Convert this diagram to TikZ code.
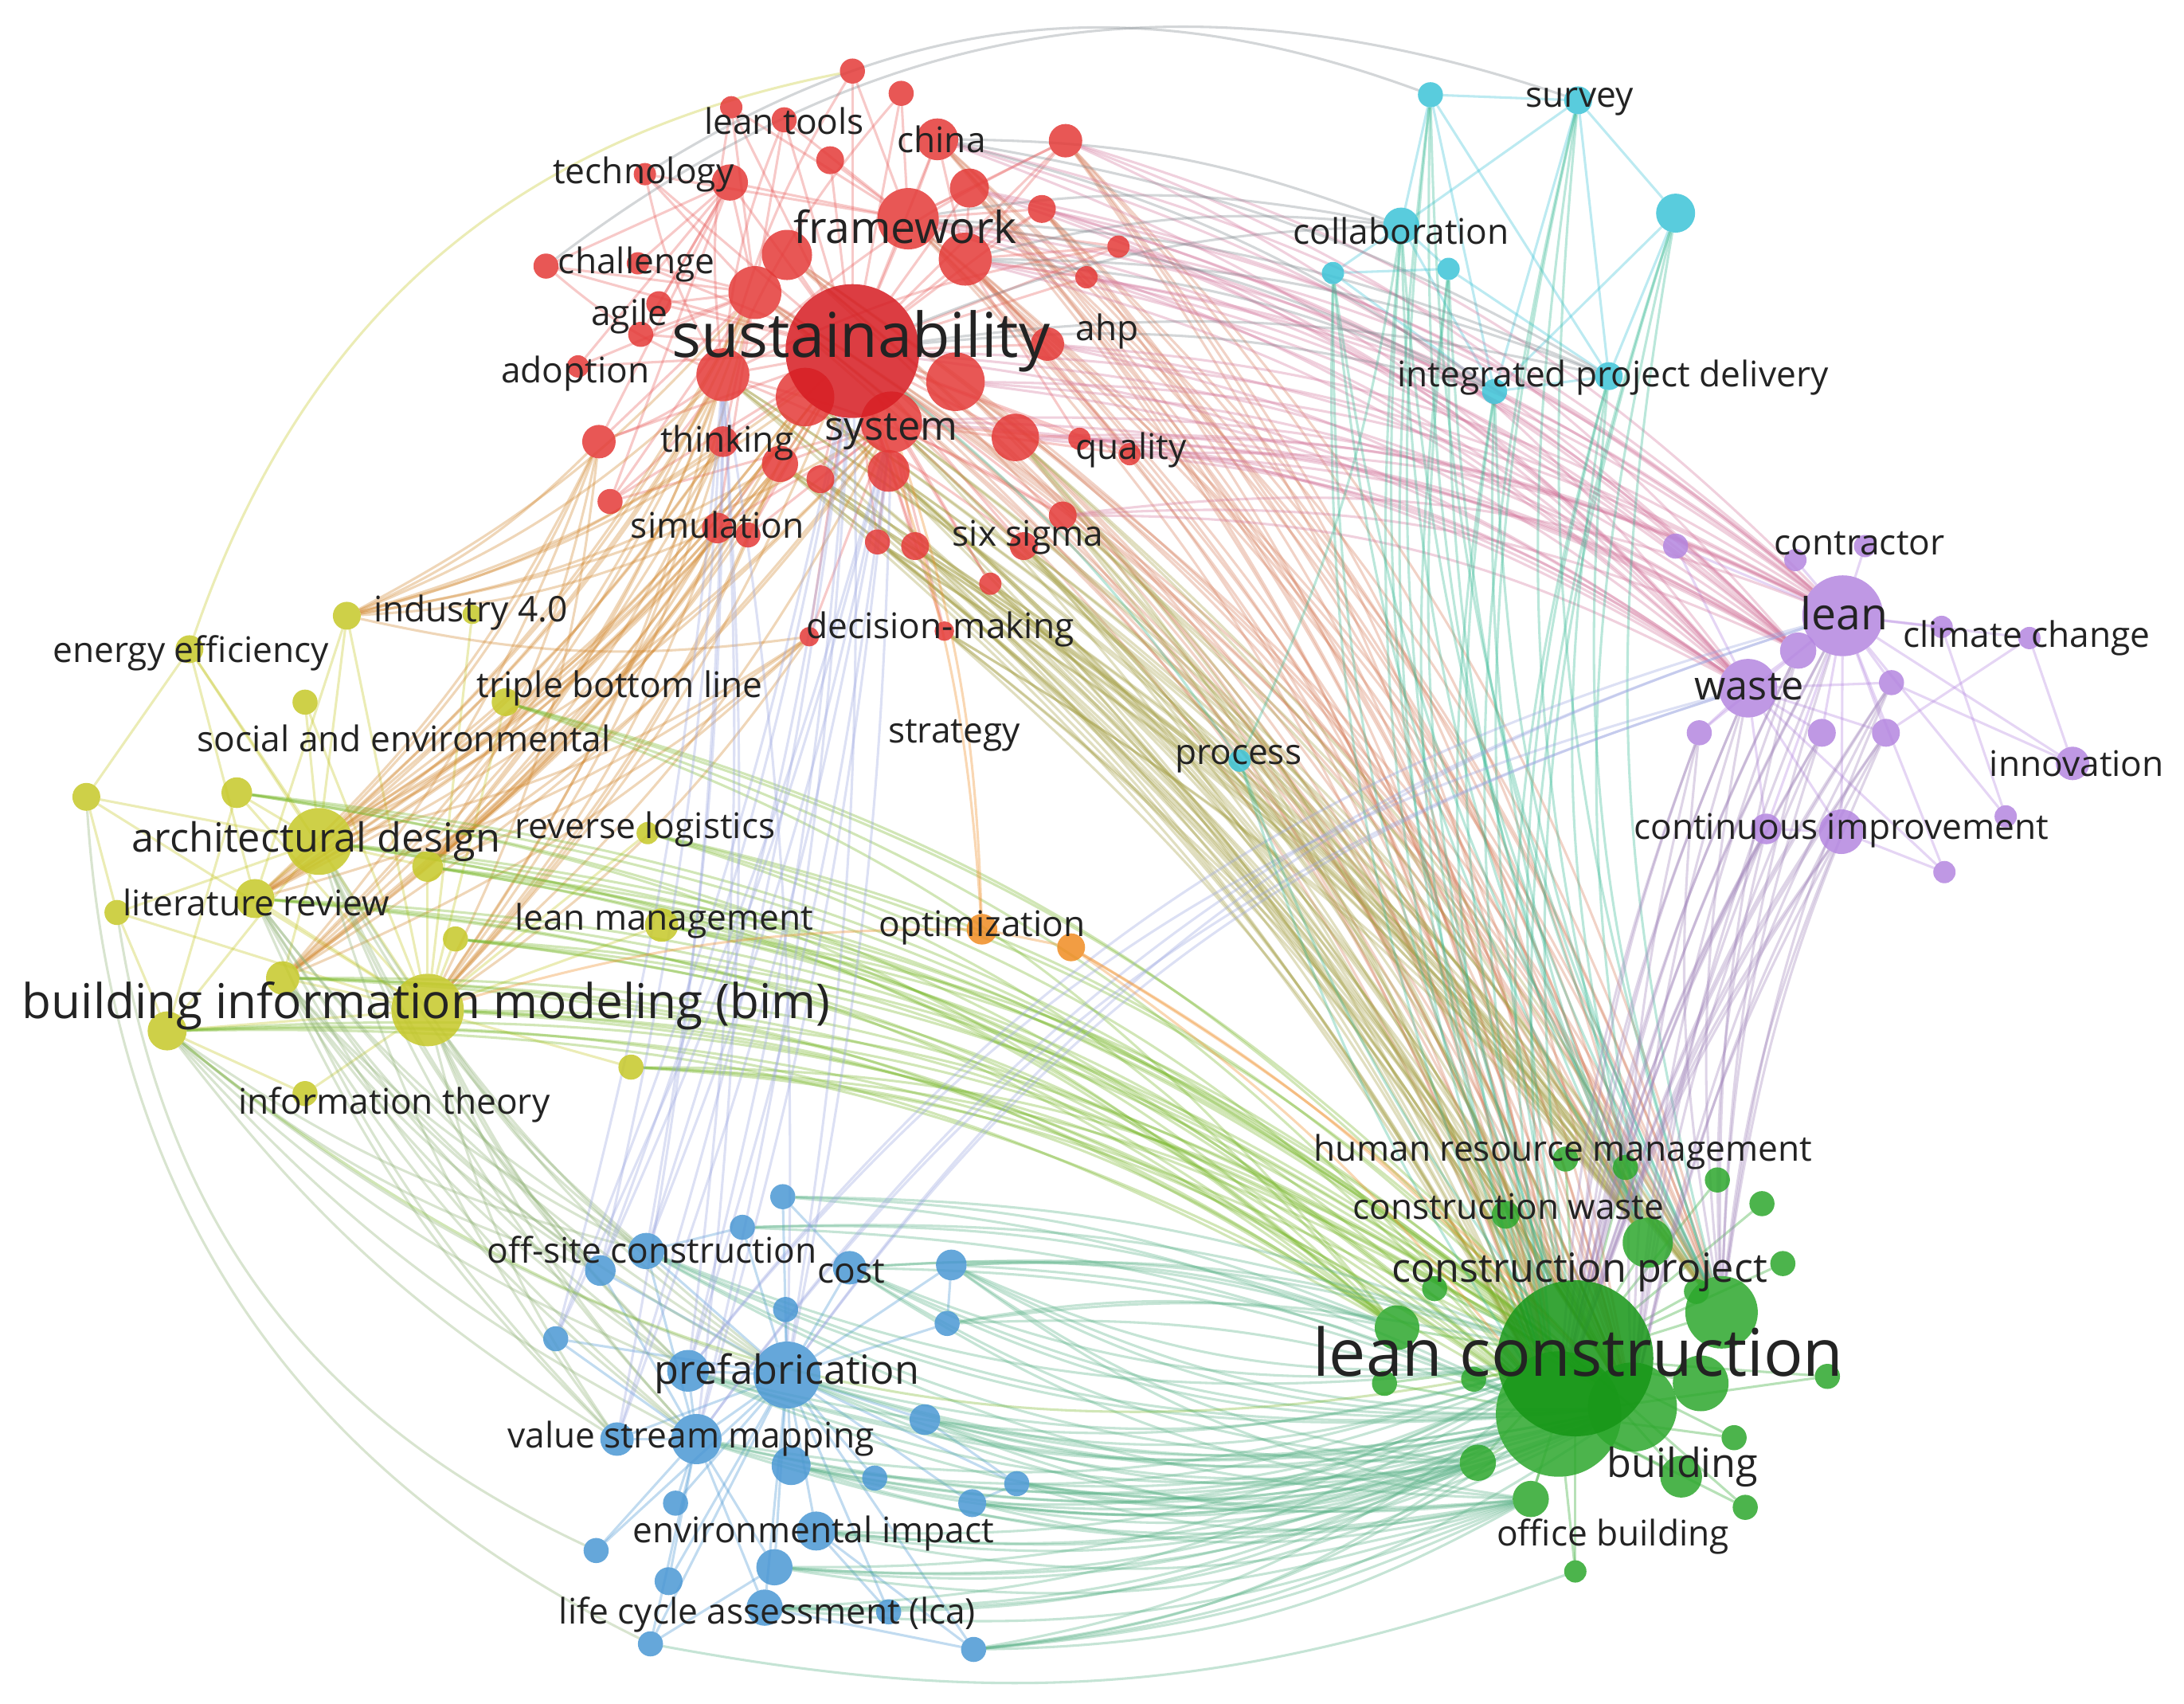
\documentclass[tikz,border=0pt]{standalone}
\usepackage{fontspec}
\setmainfont{Open Sans}
\usetikzlibrary{backgrounds}
\definecolor{vRed}{RGB}{228,58,56}
\definecolor{vRedD}{RGB}{214,28,34}
\definecolor{vGreen}{RGB}{45,168,45}
\definecolor{vGreenD}{RGB}{22,150,22}
\definecolor{vBlue}{RGB}{75,152,212}
\definecolor{vYellow}{RGB}{198,200,40}
\definecolor{vPurple}{RGB}{180,134,224}
\definecolor{vCyan}{RGB}{60,196,216}
\definecolor{vOrange}{RGB}{240,140,35}
\definecolor{txt}{RGB}{35,35,35}
\definecolor{eRGa}{RGB}{214,125,90}
\definecolor{eRGb}{RGB}{165,160,70}
\newcommand\kwnode[5]{\node[vn,minimum size=#4*0.2mm,fill=#5] (#1) at (#2,#3) {};}
\tikzset{
  vn/.style={circle,inner sep=0pt,outer sep=0pt,fill opacity=.85,draw=none},
  lab/.style={text=txt,inner sep=0pt,font=\fontsize{7.2}{8}\selectfont},
  labM/.style={lab,font=\fontsize{8.2}{9}\selectfont},
  labL/.style={lab,font=\fontsize{9}{10}\selectfont},
  labB/.style={lab,font=\fontsize{9.8}{11}\selectfont},
  labX/.style={lab,font=\fontsize{12.6}{14}\selectfont},
  labXX/.style={lab,font=\fontsize{13.4}{15}\selectfont},
  ed/.style={line width=.5pt,draw opacity=.34},
  eRR/.style={ed,draw=vRed!80!white},
  eRG/.style={ed,draw=eRGa},
  eRGo/.style={ed,draw=eRGb},
  eRP/.style={ed,draw=vRed!50!vPurple!85!white},
  eRY/.style={ed,draw=vRed!45!vYellow},
  eYG/.style={ed,draw=vYellow!50!vGreen},
  eBG/.style={ed,draw=vBlue!40!vGreen!85!white},
  eCG/.style={ed,draw=vCyan!60!vGreen},
  ePG/.style={ed,draw=vPurple!60!gray},
  eYB/.style={ed,draw=vYellow!55!vBlue},
  eRB/.style={ed,draw=vBlue!50!vPurple!80!white},
  eCC/.style={ed,draw=vCyan},
  ePP/.style={ed,draw=vPurple},
  eYY/.style={ed,draw=vYellow},
  eBB/.style={ed,draw=vBlue},
  eGG/.style={ed,draw=vGreen},
  eOO/.style={ed,draw=vOrange},
  eRC/.style={ed,draw=vRed!40!vCyan!60!gray},
}
\begin{document}
\begin{tikzpicture}[x=0.01cm,y=-0.01cm]
\path[use as bounding box] (0,0) rectangle (1568,1223);
% ---------------- red cluster
\kwnode{r1}{612}{51}{9}{vRed}
\kwnode{r2}{647}{67}{9}{vRed}
\kwnode{r3}{525}{77}{8}{vRed}
\kwnode{r4}{563}{86}{9}{vRed}
\kwnode{r5}{673}{100}{15}{vRed}
\kwnode{r6}{765}{101}{12}{vRed}
\kwnode{r7}{596}{115}{10}{vRed}
\kwnode{r8}{524}{131}{13}{vRed}
\kwnode{r9}{463}{125}{8}{vRed}
\kwnode{r10}{696}{135}{14}{vRed}
\kwnode{r11}{748}{150}{10}{vRed}
\kwnode{r12}{652}{157}{22}{vRed}
\kwnode{r13}{565}{183}{18}{vRed}
\kwnode{r14}{693}{186}{19}{vRed}
\kwnode{r15}{803}{177}{8}{vRed}
\kwnode{r16}{780}{199}{8}{vRed}
\kwnode{r17}{392}{191}{9}{vRed}
\kwnode{r18}{458}{189}{8}{vRed}
\kwnode{r19}{542}{210}{19}{vRed}
\kwnode{r20}{473}{218}{9}{vRed}
\kwnode{r21}{460}{240}{9}{vRed}
\kwnode{r22}{519}{269}{19}{vRed}
\kwnode{r23}{415}{263}{8}{vRed}
\kwnode{r24}{578}{285}{21}{vRed}
\kwnode{r25}{686}{274}{21}{vRed}
\kwnode{r26}{640}{303}{22}{vRed}
\kwnode{r27}{729}{314}{17}{vRed}
\kwnode{r28}{430}{317}{12}{vRed}
\kwnode{r29}{519}{317}{11}{vRed}
\kwnode{r30}{775}{315}{8}{vRed}
\kwnode{r31}{811}{326}{8}{vRed}
\kwnode{r32}{560}{333}{13}{vRed}
\kwnode{r33}{589}{344}{10}{vRed}
\kwnode{r34}{638}{338}{15}{vRed}
\kwnode{r35}{438}{360}{9}{vRed}
\kwnode{r36}{515}{379}{11}{vRed}
\kwnode{r37}{537}{384}{9}{vRed}
\kwnode{r38}{630}{389}{9}{vRed}
\kwnode{r39}{657}{392}{10}{vRed}
\kwnode{r40}{763}{370}{10}{vRed}
\kwnode{r41}{735}{392}{10}{vRed}
\kwnode{r42}{711}{419}{8}{vRed}
\kwnode{r43}{581}{457}{7}{vRed}
\kwnode{r44}{678}{453}{7}{vRed}
\kwnode{r45}{752}{247}{12}{vRed}
\kwnode{rS}{612}{252}{48}{vRedD}
% ---------------- cyan cluster
\kwnode{c1}{1027}{68}{9}{vCyan}
\kwnode{c2}{1133}{72}{10}{vCyan}
\kwnode{c3}{1203}{153}{14}{vCyan}
\kwnode{c4}{1006}{162}{13}{vCyan}
\kwnode{c5}{957}{196}{8}{vCyan}
\kwnode{c6}{1040}{193}{8}{vCyan}
\kwnode{c7}{1073}{281}{9}{vCyan}
\kwnode{c8}{1155}{270}{10}{vCyan}
\kwnode{c9}{890}{546}{8}{vCyan}
% ---------------- purple cluster
\kwnode{p1}{1203}{392}{9}{vPurple}
\kwnode{p2}{1289}{402}{8}{vPurple}
\kwnode{p3}{1339}{392}{8}{vPurple}
\kwnode{p5}{1291}{467}{13}{vPurple}
\kwnode{p7}{1394}{450}{8}{vPurple}
\kwnode{p8}{1457}{458}{8}{vPurple}
\kwnode{p9}{1358}{490}{9}{vPurple}
\kwnode{p10}{1220}{526}{9}{vPurple}
\kwnode{p11}{1308}{526}{10}{vPurple}
\kwnode{p12}{1354}{526}{10}{vPurple}
\kwnode{p13}{1488}{548}{12}{vPurple}
\kwnode{p14}{1268}{595}{11}{vPurple}
\kwnode{p15}{1322}{597}{16}{vPurple}
\kwnode{p16}{1440}{586}{8}{vPurple}
\kwnode{p17}{1396}{626}{8}{vPurple}
\kwnode{pW}{1255}{494}{21}{vPurple}
\kwnode{pL}{1323}{442}{29}{vPurple}
% ---------------- yellow cluster
\kwnode{y1}{249}{442}{10}{vYellow}
\kwnode{y2}{339}{441}{7}{vYellow}
\kwnode{y3}{136}{466}{10}{vYellow}
\kwnode{y4}{219}{504}{9}{vYellow}
\kwnode{y5}{363}{504}{10}{vYellow}
\kwnode{y6}{62}{572}{10}{vYellow}
\kwnode{y7}{170}{569}{11}{vYellow}
\kwnode{y9}{307}{622}{11}{vYellow}
\kwnode{y10}{465}{598}{8}{vYellow}
\kwnode{y11}{84}{655}{9}{vYellow}
\kwnode{y12}{183}{645}{14}{vYellow}
\kwnode{y13}{327}{674}{9}{vYellow}
\kwnode{y14}{475}{664}{12}{vYellow}
\kwnode{y15}{203}{702}{12}{vYellow}
\kwnode{y17}{120}{740}{14}{vYellow}
\kwnode{y18}{453}{766}{9}{vYellow}
\kwnode{y19}{219}{785}{9}{vYellow}
\kwnode{yA}{229}{604}{24}{vYellow}
\kwnode{yB}{307}{725}{26}{vYellow}
% ---------------- orange
\kwnode{o1}{705}{667}{11}{vOrange}
\kwnode{o2}{769}{680}{10}{vOrange}
% ---------------- blue cluster
\kwnode{b1}{562}{859}{9}{vBlue}
\kwnode{b2}{533}{881}{9}{vBlue}
\kwnode{b3}{464}{898}{13}{vBlue}
\kwnode{b4}{431}{912}{11}{vBlue}
\kwnode{b5}{610}{910}{12}{vBlue}
\kwnode{b6}{683}{908}{11}{vBlue}
\kwnode{b7}{564}{940}{9}{vBlue}
\kwnode{b8}{680}{950}{9}{vBlue}
\kwnode{b9}{399}{961}{9}{vBlue}
\kwnode{b10}{494}{984}{15}{vBlue}
\kwnode{b12}{664}{1019}{11}{vBlue}
\kwnode{b13}{443}{1033}{12}{vBlue}
\kwnode{b14}{500}{1033}{18}{vBlue}
\kwnode{b15}{568}{1052}{14}{vBlue}
\kwnode{b16}{628}{1061}{9}{vBlue}
\kwnode{b17}{730}{1065}{9}{vBlue}
\kwnode{b18}{485}{1079}{9}{vBlue}
\kwnode{b19}{698}{1079}{10}{vBlue}
\kwnode{b20}{586}{1099}{14}{vBlue}
\kwnode{b21}{428}{1113}{9}{vBlue}
\kwnode{b22}{556}{1125}{13}{vBlue}
\kwnode{b23}{480}{1135}{10}{vBlue}
\kwnode{b24}{549}{1154}{13}{vBlue}
\kwnode{b25}{638}{1157}{9}{vBlue}
\kwnode{b26}{467}{1180}{9}{vBlue}
\kwnode{b27}{699}{1184}{9}{vBlue}
\kwnode{bP}{565}{987}{24}{vBlue}
% ---------------- green cluster
\kwnode{g1}{1124}{832}{9}{vGreen}
\kwnode{g2}{1167}{838}{9}{vGreen}
\kwnode{g3}{1233}{847}{9}{vGreen}
\kwnode{g4}{1265}{864}{9}{vGreen}
\kwnode{g5}{1081}{872}{10}{vGreen}
\kwnode{g6}{1183}{892}{18}{vGreen}
\kwnode{g7}{1280}{907}{9}{vGreen}
\kwnode{g8}{1030}{925}{9}{vGreen}
\kwnode{g9}{1218}{927}{9}{vGreen}
\kwnode{g10}{1236}{942}{26}{vGreen}
\kwnode{g11}{1003}{953}{16}{vGreen}
\kwnode{g16}{994}{993}{9}{vGreen}
\kwnode{g17}{1058}{990}{9}{vGreen}
\kwnode{g18}{1312}{988}{9}{vGreen}
\kwnode{g19}{1245}{1032}{9}{vGreen}
\kwnode{g20}{1061}{1050}{13}{vGreen}
\kwnode{g21}{1207}{1060}{15}{vGreen}
\kwnode{g22}{1099}{1076}{13}{vGreen}
\kwnode{g23}{1253}{1082}{9}{vGreen}
\kwnode{g24}{1131}{1128}{8}{vGreen}
\kwnode{g14}{1221}{993}{20}{vGreen}
\kwnode{g15}{1172}{1010}{32}{vGreen}
\kwnode{g13}{1119}{1015}{45}{vGreen}
\kwnode{gL}{1131}{975}{56}{vGreenD}
% ================= edges
\begin{pgfonlayer}{background}
\fill[white] (0,0) rectangle (1568,1223);
% intra-cluster
\foreach \i in {1,...,45} {\draw[eRR] (rS) -- (r\i);}
\foreach \i in {1,...,11,15,16} {\draw[eRR] (r12) -- (r\i);}
\foreach \i in {3,4,8,9,17,18,20,21,23,28,29,35,36} {\draw[eRR] (r19) -- (r\i);}
\foreach \i in {30,...,44} {\draw[eRR] (r26) -- (r\i);}
\foreach \i in {5,6,10,11,15,16,45,30,31} {\draw[eRR] (r14) -- (r\i);}
\foreach \i in {17,18,20,21,23,28,35} {\draw[eRR] (r8) -- (r\i);}
\foreach \i in {1,2,3,4,6,9,15,17,28,35,40,41} {\draw[eRR] (r22) to[bend left=8] (r\i);}
\foreach \a/\b in {c1/c4,c1/c7,c1/c8,c1/c2,c2/c4,c2/c7,c2/c8,c2/c3,c3/c8,c3/c7,c4/c5,c4/c6,c4/c7,c5/c6,c6/c8,c7/c8,c5/c7}
  {\draw[eCC] (\a) -- (\b);}
\foreach \i in {1,2,3,5,7,8,9,10,11,12,13,14,15,16,17} {\draw[ePP] (pL) -- (p\i);}
\foreach \i in {1,5,9,10,11,12,14,15,17} {\draw[ePP] (pW) -- (p\i);}
\foreach \a/\b in {p13/p8,p13/p9,p16/p7,p8/p12,p17/p15,p14/p15}{\draw[ePP] (\a) -- (\b);}
\foreach \i in {1,2,3,4,5,6,7,9,10,11,12,13,14,15,17,18,19} {\draw[eYY] (yB) -- (y\i);}
\foreach \i in {1,3,4,6,7,9,11,12,15,17} {\draw[eYY] (yA) -- (y\i);}
\foreach \a/\b in {y6/y3,y6/y11,y11/y17,y3/y12,y1/y12,y7/y17,y19/y17}{\draw[eYY] (\a) -- (\b);}
\foreach \i in {1,...,10,12,13,14,15,16,17,18,19,20,21,22,23,24,25,26,27} {\draw[eBB] (bP) -- (b\i);}
\foreach \i in {3,4,9,13,18,21,22,23,24,26,10} {\draw[eBB] (b14) -- (b\i);}
\foreach \a/\b in {b20/b25,b20/b27,b24/b27,b22/b26,b12/b17,b19/b17,b6/b8,b5/b1,b2/b3}{\draw[eBB] (\a) -- (\b);}
\foreach \i in {1,...,11,14,15,16,17,18,19,20,21,22,23,24} {\draw[eGG] (gL) -- (g\i);}
\foreach \i in {16,17,18,19,20,21,22,23,24} {\draw[eGG] (g13) -- (g\i);}
% red - green
\foreach \a in {rS,r12,r14,r25,r10,r13,r19,r5,r6,r11}
  {\foreach \b in {gL,g13,g15,g10,g6} {\draw[eRG] (\a) to[bend left=14] (\b);}}
\foreach \a in {r26,r27,r24,r34,r41,r40,r22,r33,r38,r39,r42,r44,r32}
  {\foreach \b in {gL,g13,g15,g10,g6} {\draw[eRGo] (\a) to[bend left=10] (\b);}}
% red - purple
\foreach \a in {rS,r12,r14,r25,r6,r10,r45,r27,r26,r5,r11,r16,r31,r40,r15,r30}
  {\foreach \b in {pL,pW,p5} {\draw[eRP] (\a) to[bend left=14] (\b);}}
% red - yellow
\foreach \a in {rS,r22,r19,r28,r29,r24,r32,r36,r43,r26}
  {\foreach \b in {yA,yB,y12,y15,y9,y1} {\draw[eRY] (\a) to[bend left=10] (\b);}}
% yellow - green
\foreach \a in {yB,yA,y12,y15,y17,y9,y14,y13,y18,y7,y10,y5}
  {\foreach \b in {gL,g13,g15,g11} {\draw[eYG] (\a) to[bend left=16] (\b);}}
% blue - green
\foreach \a in {bP,b10,b14,b15,b20,b5,b6,b12,b3,b22,b24,b27,b17,b19}
  {\foreach \b in {gL,g13,g15,g20,g22} {\draw[eBG] (\a) to[bend right=14] (\b);}}
\foreach \a in {b1,b2,b5,b6,b8}
  {\foreach \b in {gL,g13,g11} {\draw[eBG] (\a) to[bend left=10] (\b);}}
% cyan - green
\foreach \a in {c1,c2,c3,c4,c5,c6,c7,c8}
  {\foreach \b in {gL,g13,g10,g6} {\draw[eCG] (\a) to[bend right=12] (\b);}}
% purple - green
\foreach \a in {pL,pW,p15,p14,p10,p11,p12,p5,p9}
  {\foreach \b in {gL,g13,g10,g15} {\draw[ePG] (\a) to[bend right=8] (\b);}}
% yellow - blue
\foreach \a in {yB,yA,y12,y15,y17}
  {\foreach \b in {bP,b14,b3,b10,b13,b4} {\draw[eYB] (\a) to[bend right=10] (\b);}}
% red - blue
\foreach \a in {b3,b4,b9,b13,b10,b14,bP}
  {\foreach \b in {rS,r22,r26} {\draw[eRB] (\a) to[bend right=5] (\b);}}
% purple - blue
\foreach \a in {pL,pW}
  {\foreach \b in {bP,b10,b14} {\draw[eRB] (\a) to[bend right=18] (\b);}}
% red - cyan
\foreach \a in {rS,r12,r14,r5}
  {\foreach \b in {c4,c7,c8} {\draw[eRC] (\a) to[bend left=10] (\b);}}
% orange and process
\draw[eOO] (o1) -- (o2);
\foreach \b in {gL,g13,g15} {\draw[eOO] (o2) to[bend left=8] (\b);}
\foreach \b in {rS,r26,yB} {\draw[eOO] (o1) to[bend right=8] (\b);}
\foreach \b in {gL,g13,c4,rS} {\draw[eCG] (c9) to[bend right=8] (\b);}
% outer arcs
\draw[eRC] (r17) to[bend left=28] (c2);
\draw[eRC] (r9) to[bend left=26] (c1);
\draw[eYY] (y3) to[bend left=30] (r1);
\draw[eYB] (y6) to[bend right=30] (b26);
\draw[eYB] (y11) to[bend right=28] (b21);
\draw[eBG] (b26) to[bend right=15] (g24);
\draw[eBG] (b27) to[bend right=10] (g22);
\draw[eYG] (y17) to[bend right=25] (gL);
\end{pgfonlayer}
% ================= labels
\node[lab] (Llt) at (563,87) {lean tools};
\node[lab] (Lch) at (676,100) {china};
\node[lab] (Ltec) at (462,125) {technology};
\node[labL] (Lfw) at (650,163) {framework};
\node[lab] (Lchal) at (457,190) {challenge};
\node[lab] (Lag) at (452,227) {agile};
\node[labX] (Lsus) at (618,245) {sustainability};
\node[lab] (Lahp) at (795,238) {ahp};
\node[lab] (Lad) at (413,268) {adoption};
\node[lab] (Lth) at (522,318) {thinking};
\node[labM] (Lsy) at (640,310) {system};
\node[lab] (Lqu) at (812,323) {quality};
\node[lab] (Lsim) at (515,377) {simulation};
\node[lab] (Lsix) at (738,386) {six sigma};
\node[lab] (Ldm) at (675,452) {decision-making};
\node[lab] (Lstr) at (685,528) {strategy};
\node[lab] (Lsur) at (1134,73) {survey};
\node[lab] (Lcol) at (1006,166) {collaboration};
\node[lab] (Lipd) at (1158,271) {integrated project delivery};
\node[lab] (Lpro) at (889,545) {process};
\node[lab] (Lcon) at (1335,390) {contractor};
\node[labL] (Llean) at (1324,440) {lean};
\node[lab] (Lcc) at (1455,458) {climate change};
\node[labM] (Lwas) at (1256,493) {waste};
\node[lab] (Linn) at (1491,548) {innovation};
\node[lab] (Lci) at (1322,596) {continuous improvement};
\node[lab] (Lind) at (338,440) {industry 4.0};
\node[lab] (Lee) at (137,469) {energy efficiency};
\node[lab] (Ltbl) at (445,494) {triple bottom line};
\node[lab] (Lse) at (290,530) {social and environmental};
\node[labM] (Lad2) at (227,604) {architectural design};
\node[lab] (Lrl) at (463,595) {reverse logistics};
\node[lab] (Llr) at (184,648) {literature review};
\node[lab] (Llm) at (477,661) {lean management};
\node[labB] (Lbim) at (306,722) {building information modeling (bim)};
\node[lab] (Lit) at (283,793) {information theory};
\node[lab] (Lopt) at (705,666) {optimization};
\node[lab] (Losc) at (468,897) {off-site construction};
\node[lab] (Lcost) at (611,913) {cost};
\node[labM] (Lpre) at (565,986) {prefabrication};
\node[lab] (Lvsm) at (496,1033) {value stream mapping};
\node[lab] (Lei) at (584,1101) {environmental impact};
\node[lab] (Llca) at (551,1159) {life cycle assessment (lca)};
\node[lab] (Lhrm) at (1122,827) {human resource management};
\node[lab] (Lcw) at (1083,866) {construction waste};
\node[labM] (Lcp) at (1134,913) {construction project};
\node[labXX] (Llc) at (1133,970) {lean construction};
\node[labM] (Lbui) at (1208,1053) {building};
\node[lab] (Lob) at (1158,1103) {office building};
\end{tikzpicture}
\end{document}
